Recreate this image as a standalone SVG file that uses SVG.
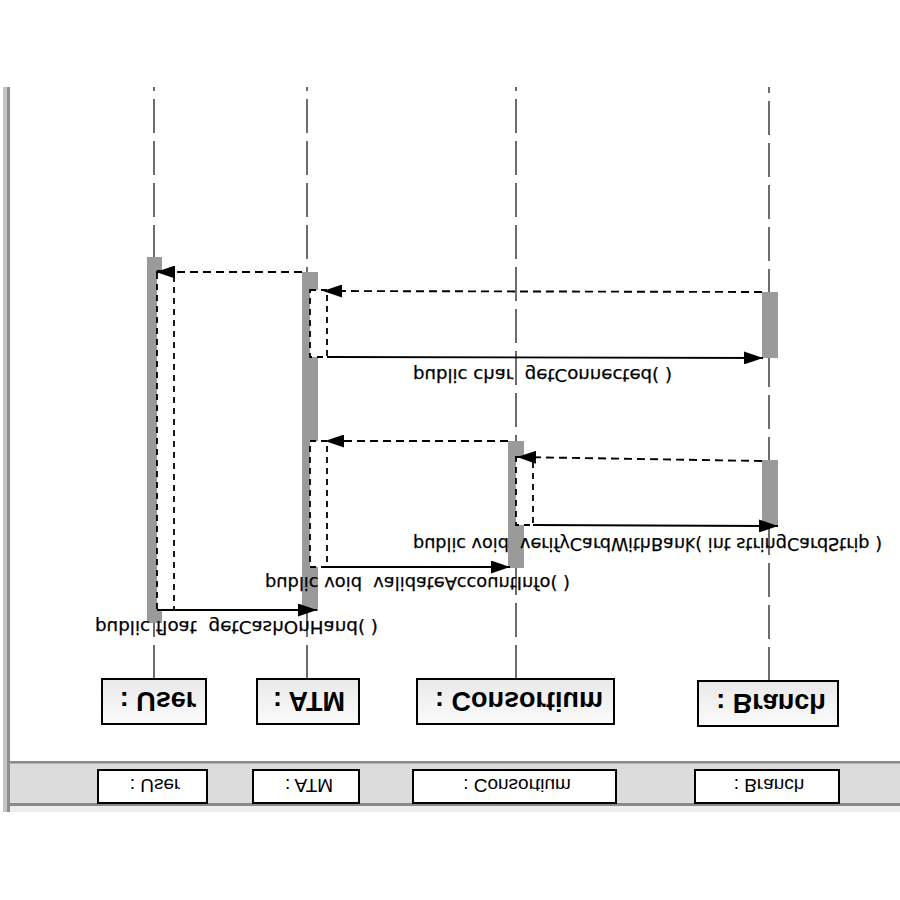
<svg xmlns="http://www.w3.org/2000/svg" width="900" height="900" viewBox="0 0 900 900">
<defs>
<style>
.life{fill:none;stroke:#5e5e5e;stroke-width:1.8;stroke-dasharray:34 8}
.bar{fill:#9a9a9a}
.nest{fill:#ffffff;stroke:#000;stroke-width:1.8;stroke-dasharray:6 5}
.box{fill:url(#g);stroke:#000;stroke-width:2}
.sbox{fill:#ffffff;stroke:#000;stroke-width:2}
.btxt{font-family:"Liberation Sans",Arial,sans-serif;font-weight:bold;font-size:27px;text-anchor:middle;fill:#000}
.stxt{font-family:"Liberation Sans",Arial,sans-serif;font-size:19px;text-anchor:middle;fill:#000}
.lbl{font-family:"DejaVu Sans",Verdana,sans-serif;font-size:18px;fill:#000;white-space:pre;stroke:#000;stroke-width:0.25}
.call{fill:none;stroke:#000;stroke-width:1.9;marker-end:url(#ah)}
.ret{fill:none;stroke:#000;stroke-width:1.9;stroke-dasharray:8 5;marker-end:url(#ah)}
</style>
<linearGradient id="g" x1="0" y1="0" x2="0" y2="1">
<stop offset="0" stop-color="#e9e9e9"/>
<stop offset="1" stop-color="#fbfbfb"/>
</linearGradient>
<marker id="ah" markerUnits="userSpaceOnUse" markerWidth="19" markerHeight="13" refX="19" refY="6.5" orient="auto">
<path d="M0,0 L19,6.5 L0,13 z" fill="#000"/>
</marker>
</defs>
<rect x="0" y="0" width="900" height="900" fill="#ffffff"/>
<g id="frame">
<rect x="3" y="87" width="4" height="725" fill="#c4c4c4"/>
<rect x="7" y="87" width="3" height="725" fill="#8e8e8e"/>
<rect x="10" y="761" width="890" height="45" fill="#dcdcdc"/>
<rect x="10" y="761" width="890" height="2.5" fill="#8a8a8a"/>
<rect x="10" y="803" width="890" height="3" fill="#8a8a8a"/>
<rect x="10" y="806" width="890" height="6" fill="#eeeeee"/>
</g>
<g id="user">
<path class="life" d="M154 679 V87"/>
<rect class="bar" x="147" y="257" width="15" height="366"/>
<rect class="nest" x="157" y="271" width="17" height="339"/>
<rect class="box" x="102" y="679" width="104" height="45"/>
<text class="btxt" transform="translate(158,692) scale(1,-1)">: User</text>
<rect class="sbox" x="98" y="770" width="109" height="33"/>
<text class="stxt" transform="translate(155,779) scale(1,-1)">: User</text>
</g>
<g id="atm">
<path class="life" d="M307 679 V87"/>
<rect class="bar" x="302" y="272" width="16" height="339"/>
<rect class="nest" x="310" y="290" width="17" height="67"/>
<rect class="nest" x="310" y="441" width="17" height="126"/>
<rect class="box" x="257" y="679" width="102" height="45"/>
<text class="btxt" transform="translate(309,692) scale(1,-1)">: ATM</text>
<rect class="sbox" x="253" y="770" width="106" height="33"/>
<text class="stxt" transform="translate(309,779) scale(1,-1)">: ATM</text>
</g>
<g id="consortium">
<path class="life" d="M516 679 V87"/>
<rect class="bar" x="508" y="441" width="16" height="127"/>
<rect class="nest" x="516" y="457" width="17" height="68"/>
<rect class="box" x="417" y="679" width="197" height="45"/>
<text class="btxt" transform="translate(519,692) scale(1,-1)">: Consortium</text>
<rect class="sbox" x="413" y="770" width="203" height="33"/>
<text class="stxt" transform="translate(517,779) scale(1,-1)">: Consortium</text>
</g>
<g id="branch">
<path class="life" d="M769 681 V87"/>
<rect class="bar" x="762" y="292" width="16" height="66"/>
<rect class="bar" x="762" y="460" width="16" height="66"/>
<rect class="box" x="698" y="681" width="140" height="45"/>
<text class="btxt" transform="translate(771,694) scale(1,-1)">: Branch</text>
<rect class="sbox" x="695" y="770" width="144" height="33"/>
<text class="stxt" transform="translate(769,779) scale(1,-1)">: Branch</text>
</g>
<g id="connectors">
<path class="call" d="M157 610 H317"/>
<path class="call" d="M327 567 H510"/>
<path class="call" d="M533 525 L778 526"/>
<path class="ret" d="M762 461 L517 457"/>
<path class="ret" d="M508 441 H325"/>
<path class="call" d="M327 357 L763 358"/>
<path class="ret" d="M762 292 L323 291"/>
<path class="ret" d="M302 272 H156"/>
</g>
<g id="labels">
<text class="lbl" xml:space="preserve" textLength="283" lengthAdjust="spacingAndGlyphs" transform="translate(95,621) scale(1,-1)">public float  getCashOnHand( )</text>
<text class="lbl" xml:space="preserve" textLength="305" lengthAdjust="spacingAndGlyphs" transform="translate(265,577) scale(1,-1)">public void  validateAccountInfo( )</text>
<text class="lbl" xml:space="preserve" textLength="469" lengthAdjust="spacingAndGlyphs" transform="translate(413,538) scale(1,-1)">public void  verifyCardWithBank( int stringCardStrip )</text>
<text class="lbl" xml:space="preserve" textLength="259" lengthAdjust="spacingAndGlyphs" transform="translate(413,369) scale(1,-1)">public char  getConnected( )</text>
</g>
</svg>
